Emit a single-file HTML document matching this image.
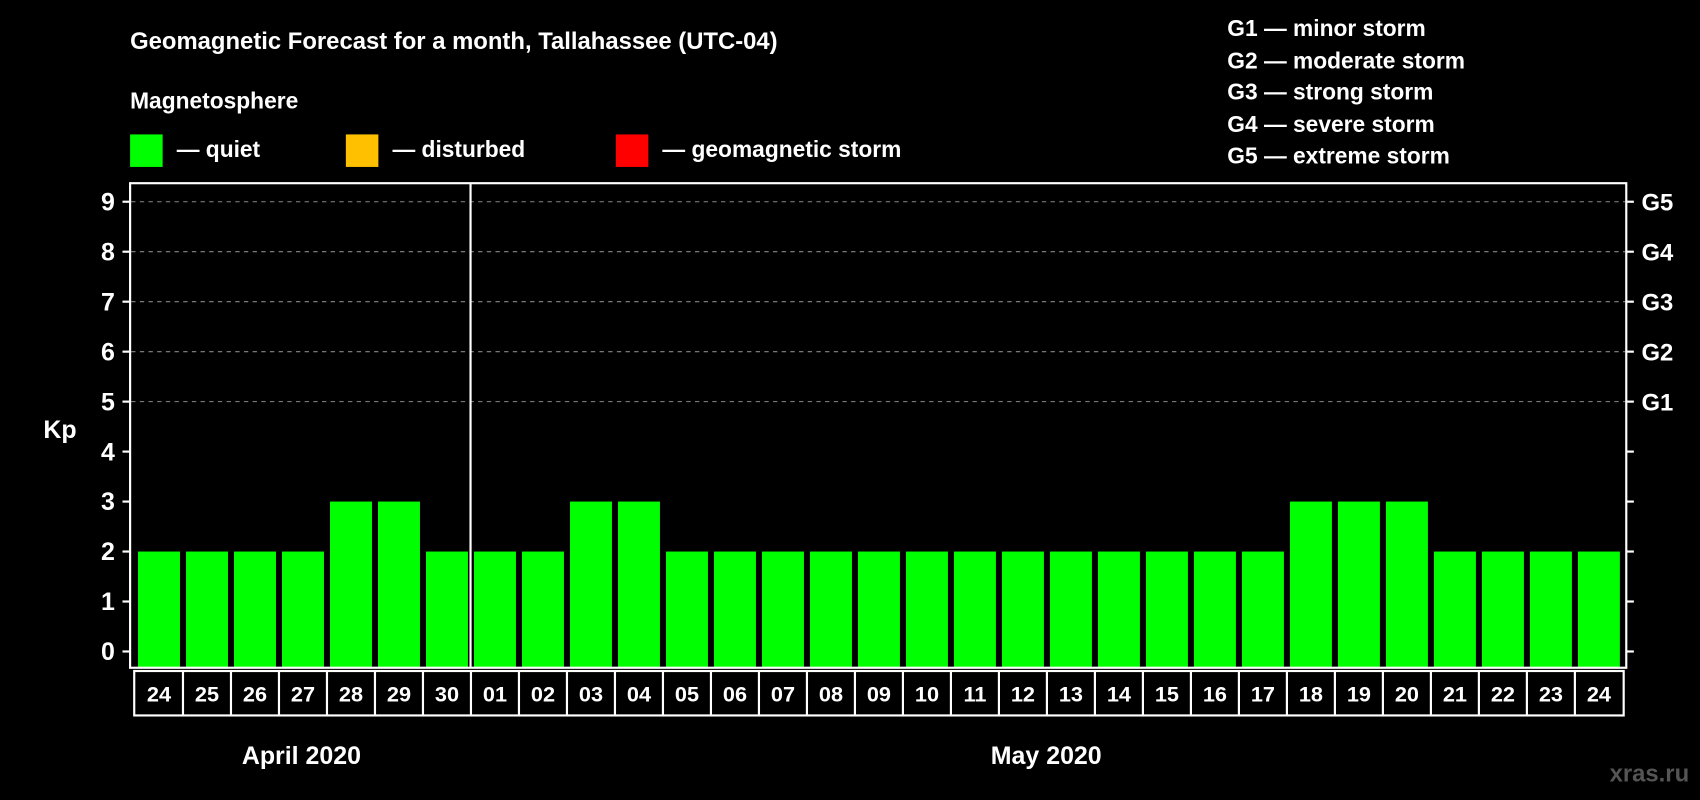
<!DOCTYPE html>
<html><head><meta charset="utf-8"><style>
html,body{margin:0;padding:0;background:#000;}
svg{display:block;font-family:"Liberation Sans",Arial,sans-serif;font-weight:bold;}
</style></head><body>
<svg id="chart" width="1700" height="800" viewBox="0 0 1568 738" preserveAspectRatio="none" xmlns="http://www.w3.org/2000/svg">
<rect width="1568" height="738" fill="#000"/>
<text x="120" y="45" fill="#fff" font-size="22">Geomagnetic Forecast for a month, Tallahassee (UTC-04)</text>
<text x="120" y="100" fill="#fff" font-size="21">Magnetosphere</text>
<rect x="120" y="124" width="30" height="30" fill="#00ff00"/>
<text x="163" y="145" fill="#fff" font-size="21">— quiet</text>
<rect x="319" y="124" width="30" height="30" fill="#ffc000"/>
<text x="362" y="145" fill="#fff" font-size="21">— disturbed</text>
<rect x="568" y="124" width="30" height="30" fill="#ff0000"/>
<text x="611" y="145" fill="#fff" font-size="21">— geomagnetic storm</text>
<g fill="#fff" font-size="21">
<text x="1132" y="33">G1 — minor storm</text>
<text x="1132" y="63">G2 — moderate storm</text>
<text x="1132" y="92">G3 — strong storm</text>
<text x="1132" y="122">G4 — severe storm</text>
<text x="1132" y="151">G5 — extreme storm</text>
</g>
<text x="40" y="404" fill="#fff" font-size="23">Kp</text>
<g id="grid"></g>
<g id="bars"></g>
<rect x="120" y="169" width="1380" height="447" fill="none" stroke="#fff" stroke-width="2"/>
<line x1="434" y1="169" x2="434" y2="616" stroke="#fff" stroke-width="2"/>
<g id="axes"></g>
<g id="dates"></g>
<text x="278" y="705" fill="#fff" font-size="23" text-anchor="middle">April 2020</text>
<text x="965" y="705" fill="#fff" font-size="23" text-anchor="middle">May 2020</text>
<text x="1558" y="721" fill="#555" font-size="22" text-anchor="end">xras.ru</text>
</svg>
<script>
const days = ["24","25","26","27","28","29","30","01","02","03","04","05","06","07","08","09","10","11","12","13","14","15","16","17","18","19","20","21","22","23","24"];
const kpValues = [2,2,2,2,3,3,2,2,2,3,3,2,2,2,2,2,2,2,2,2,2,2,2,2,3,3,3,2,2,2,2];
const yTicks = [0,1,2,3,4,5,6,7,8,9];
const gLabels = ["G1","G2","G3","G4","G5"];
const gLevels = [5,6,7,8,9];
const NS = "http://www.w3.org/2000/svg";
function y(v){return 601 - v*46.1;}
function x(i){return 127.3 + i*44.27;}
const BW = 38.7;
function mk(tag, attrs, parent, txt){const e=document.createElementNS(NS,tag);for(const k in attrs)e.setAttribute(k,attrs[k]);if(txt!==undefined)e.textContent=txt;parent.appendChild(e);return e;}
const grid=document.getElementById('grid'), bars=document.getElementById('bars'), axes=document.getElementById('axes'), dates=document.getElementById('dates');
gLevels.forEach((lv,i)=>{
  const l=mk('line',{x1:121,x2:1499,y1:y(lv),y2:y(lv),stroke:'#888','stroke-dasharray':'4,4','stroke-width':1},grid);
  
  
  const t=mk('text',{x:1514,y:y(lv)+8,fill:'#fff','font-size':22},axes,gLabels[i]);
  
  
});
kpValues.forEach((v,i)=>{
  const r=mk('rect',{x:x(i),y:y(v),width:BW,height:y(0)-y(v)+15,fill:'#00ff00'},bars);
  
  
});
yTicks.forEach(v=>{
  mk('line',{x1:113,x2:120,y1:y(v),y2:y(v),stroke:'#fff','stroke-width':2},axes);
  mk('line',{x1:1500,x2:1507,y1:y(v),y2:y(v),stroke:'#fff','stroke-width':2},axes);
  const t=mk('text',{x:106,y:y(v)+8,fill:'#fff','font-size':23,'text-anchor':'end'},axes,String(v));
  
  
});
const x0=x(0)-3.5, x1=x(days.length-1)+BW+3.5;
mk('rect',{x:x0,y:619,width:x1-x0,height:41,fill:'none',stroke:'#fff','stroke-width':2},dates);
days.forEach((d,i)=>{
  if(i>0) mk('line',{x1:x(i)-2.8,x2:x(i)-2.8,y1:619,y2:660,stroke:'#fff','stroke-width':2},dates);
  const t=mk('text',{x:x(i)+BW/2,y:647,fill:'#fff','font-size':20,'text-anchor':'middle'},dates,d);
  
  
});
</script>
</body></html>
